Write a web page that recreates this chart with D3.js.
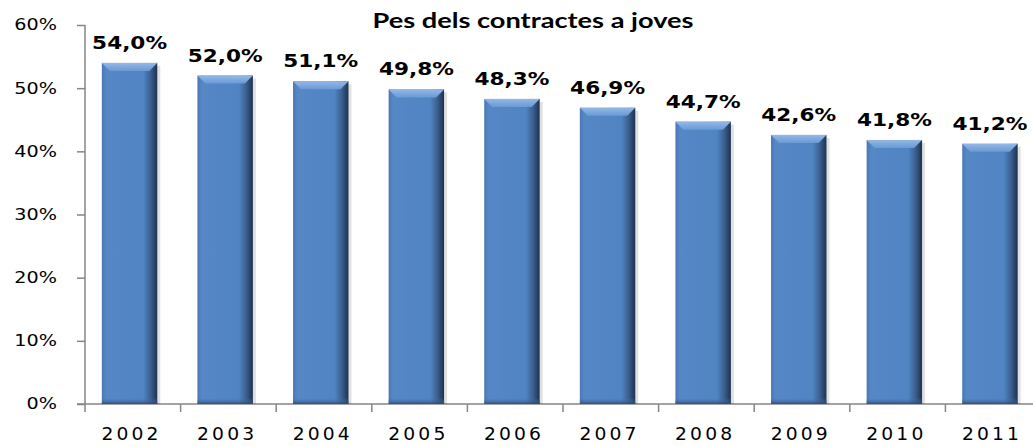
<!DOCTYPE html>
<html>
<head>
<meta charset="utf-8">
<script src="https://cdn.jsdelivr.net/npm/d3@7"></script>
<style>
  body { margin: 0; background: #fff; }
  svg { display: block; }
</style>
</head>
<body>
<div id="chart"></div>
<script>
var years = ["2002", "2003", "2004", "2005", "2006", "2007", "2008", "2009", "2010", "2011"];
var values = [54.0, 52.0, 51.1, 49.8, 48.3, 46.9, 44.7, 42.6, 41.8, 41.2];
var yTicks = [0, 10, 20, 30, 40, 50, 60];
var title = "Pes dels contractes a joves";

var W = 1033, H = 447,
    margin = { top: 25, left: 85, bottom: 43 },
    plotH = H - margin.top - margin.bottom;

var svg = d3.select("#chart").append("svg")
    .attr("width", W)
    .attr("height", H);

// the original picture is stretched sideways, so text is widened too
function place(sel, fx, fy, sx) {
    sel.attr("transform", function (d, i) {
        return "translate(" + fx(d, i) + "," + fy(d, i) + ") scale(" + sx + ",1)";
    });
}

var defs = svg.append("defs");
var gBody = defs.append("linearGradient").attr("id", "body").attr("x1", 0).attr("x2", 1).attr("y1", 0).attr("y2", 0);
gBody.append("stop").attr("offset", "0").attr("stop-color", "#4a78b5");
gBody.append("stop").attr("offset", "0.08").attr("stop-color", "#5687c6");
gBody.append("stop").attr("offset", "0.75").attr("stop-color", "#5184c3");
gBody.append("stop").attr("offset", "0.88").attr("stop-color", "#3b5f8f");
gBody.append("stop").attr("offset", "1").attr("stop-color", "#1e3150");
var gTop = defs.append("linearGradient").attr("id", "bevel").attr("x1", 0).attr("x2", 0).attr("y1", 0).attr("y2", 1);
gTop.append("stop").attr("offset", "0").attr("stop-color", "#93b8e6");
gTop.append("stop").attr("offset", "1").attr("stop-color", "#6a9ad6");
var gBot = defs.append("linearGradient").attr("id", "bottom").attr("x1", 0).attr("x2", 0).attr("y1", 0).attr("y2", 1);
gBot.append("stop").attr("offset", "0").attr("stop-color", "#4a78b5").attr("stop-opacity", 0);
gBot.append("stop").attr("offset", "1").attr("stop-color", "#2c4a75").attr("stop-opacity", 0.9);

var stepPx = 95.6, padIn = 0.42, padOut = 0.176;
var x = d3.scaleBand()
    .domain(years)
    .range([margin.left, margin.left + stepPx * (years.length - padIn + 2 * padOut)])
    .paddingInner(padIn)
    .paddingOuter(padOut);

var y = d3.scaleLinear()
    .domain([0, 60])
    .range([margin.top + plotH, margin.top]);

// y axis
var yAxis = svg.append("g")
    .attr("transform", "translate(" + margin.left + ",0)")
    .call(d3.axisLeft(y).tickValues(yTicks).tickSize(8).tickFormat(function (d) { return d + "%"; }));
yAxis.selectAll("line, path").attr("stroke", "#868686").attr("stroke-width", 1.5);
yAxis.select(".domain").attr("d", "M0," + y(60) + "V" + y(0));
yAxis.selectAll("text").remove();
var yLbl = svg.selectAll(".ylbl").data(yTicks).enter().append("text")
    .attr("text-anchor", "end")
    .attr("dy", "0.36em")
    .style("font-family", "'DejaVu Sans', Verdana, sans-serif")
    .style("font-size", "15px")
    .text(function (d) { return d + "%"; });
place(yLbl, function () { return 57; }, function (d) { return y(d); }, 1.28);

// x axis with ticks between categories
var step = x.step();
var xAxis = svg.append("g").attr("class", "x-axis");
xAxis.append("line")
    .attr("x1", margin.left - 8).attr("x2", W)
    .attr("y1", y(0)).attr("y2", y(0))
    .attr("stroke", "#868686").attr("stroke-width", 1.5);
xAxis.selectAll(".tk")
    .data(d3.range(years.length + 1))
    .enter().append("line")
    .attr("x1", function (i) { return margin.left + i * step; })
    .attr("x2", function (i) { return margin.left + i * step; })
    .attr("y1", y(0)).attr("y2", y(0) + 8)
    .attr("stroke", "#868686").attr("stroke-width", 1.5);
var xLbl = xAxis.selectAll(".lbl")
    .data(years)
    .enter().append("text")
    .attr("text-anchor", "middle")
    .style("font-family", "'DejaVu Sans', Verdana, sans-serif")
    .style("font-size", "18px")
    .style("letter-spacing", "3px")
    .text(function (d) { return d; });
place(xLbl, function (d) { return x(d) + x.bandwidth() / 2 + 2; }, function () { return 440; }, 1.04);

// bars
var data = years.map(function (d, i) { return { year: d, value: values[i] }; });
var bars = svg.selectAll(".bar").data(data).enter().append("g").attr("class", "bar");
var bev = 8;
bars.append("rect")
    .attr("x", function (d) { return x(d.year) + 3; })
    .attr("y", function (d) { return y(d.value) + 3; })
    .attr("width", x.bandwidth())
    .attr("height", function (d) { return y(0) - y(d.value) - 3; })
    .attr("fill", "#000").attr("opacity", 0.12);
bars.append("rect")
    .attr("x", function (d) { return x(d.year); })
    .attr("y", function (d) { return y(d.value); })
    .attr("width", x.bandwidth())
    .attr("height", function (d) { return y(0) - y(d.value); })
    .attr("fill", "url(#body)");
bars.append("rect")
    .attr("x", function (d) { return x(d.year); })
    .attr("y", function (d) { return y(0) - 6; })
    .attr("width", x.bandwidth())
    .attr("height", 6)
    .attr("fill", "url(#bottom)");
bars.append("path")
    .attr("d", function (d) {
        var x0 = x(d.year), x1 = x0 + x.bandwidth(), t = y(d.value);
        return "M" + x0 + "," + t + "L" + x1 + "," + t + "L" + (x1 - bev) + "," + (t + bev) +
            "L" + (x0 + bev) + "," + (t + bev) + "Z";
    })
    .attr("fill", "url(#bevel)");

// value labels
var vLbl = bars.append("text")
    .attr("text-anchor", "middle")
    .style("font-family", "'DejaVu Sans', Verdana, sans-serif")
    .style("font-weight", "bold")
    .style("font-size", "18px")
    .text(function (d) { return d3.format(".1f")(d.value).replace(".", ",") + "%"; });
place(vLbl, function (d) { return x(d.year) + x.bandwidth() / 2; }, function (d) { return y(d.value) - 14; }, 1.2);

// title
var tt = svg.append("text")
    .datum(title)
    .attr("text-anchor", "middle")
    .style("font-family", "Lato, 'Open Sans', sans-serif")
    .style("font-weight", "bold")
    .style("font-size", "20px")
    .text(title);
place(tt, function () { return 533; }, function () { return 28; }, 1.36);
</script>
</body>
</html>
